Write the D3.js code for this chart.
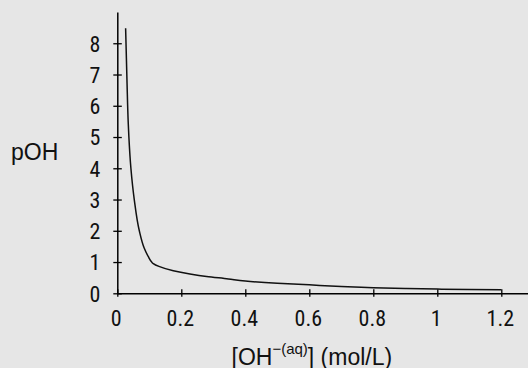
<!DOCTYPE html>
<html>
<head>
<meta charset="utf-8">
<script src="https://cdn.jsdelivr.net/npm/d3@7"></script>
<style>
  html, body { margin: 0; padding: 0; background: #e6e6e6; }
  svg { display: block; }
</style>
</head>
<body>
<div id="poh_chart"></div>
<script>
// values
var concentration = [0.026, 0.0305, 0.034, 0.0362, 0.0425, 0.053, 0.0688, 0.084, 0.097, 0.1075, 0.1125,
                     0.13, 0.175, 0.227, 0.279, 0.347, 0.4, 0.5, 0.6, 0.7, 0.8, 0.9, 1.0, 1.1, 1.2];
var pOH = [8.48, 6.7, 5.5, 5.0, 4.0, 3.0, 2.0, 1.45, 1.17, 1.0, 0.95,
           0.86, 0.72, 0.62, 0.54, 0.46, 0.39, 0.32, 0.27, 0.22, 0.18, 0.155, 0.135, 0.12, 0.11];
var xTicks = [0, 0.2, 0.4, 0.6, 0.8, 1, 1.2];
var yTicks = [0, 1, 2, 3, 4, 5, 6, 7, 8];

var width = 528, height = 368;

var svg = d3.select("#poh_chart")
  .append("svg")
    .attr("width", width)
    .attr("height", height);

var x = d3.scaleLinear()
  .domain([0, 1.3])
  .range([117.3, 117.3 + 1.3 * 320]);

var y = d3.scaleLinear()
  .domain([0, 9])
  .range([293.3, 12]);

var tickFont = "'Roboto Condensed', 'DejaVu Sans Condensed', 'Liberation Sans', sans-serif";

// x axis
var xAxis = svg.append("g")
  .attr("transform", "translate(0," + y(0) + ")")
  .call(d3.axisBottom(x)
    .tickValues(xTicks)
    .tickFormat(d3.format("~g"))
    .tickSizeInner(0)
    .tickSizeOuter(0)
    .tickPadding(32));
xAxis.select(".domain").attr("stroke", "#000").attr("stroke-width", 1.5);
xAxis.selectAll(".tick line").remove();
xAxis.selectAll(".tick").append("line")
  .attr("y1", -4).attr("y2", 3.5)
  .attr("stroke", "#000").attr("stroke-width", 1.3);
xAxis.selectAll(".tick text")
  .attr("y", 0).attr("dy", 33)
  .attr("dx", -1.5)
  .style("font-family", tickFont)
  .style("font-size", "22px")
  .attr("fill", "#111");

// y axis
var yAxis = svg.append("g")
  .attr("transform", "translate(" + x(0) + ",0)")
  .call(d3.axisLeft(y)
    .tickValues(yTicks)
    .tickSizeInner(0)
    .tickSizeOuter(0)
    .tickPadding(17));
yAxis.select(".domain").attr("stroke", "#000").attr("stroke-width", 1.5);
yAxis.selectAll(".tick line").remove();
yAxis.selectAll(".tick").append("line")
  .attr("x1", -4).attr("x2", 4.5)
  .attr("stroke", "#000").attr("stroke-width", 1.3);
yAxis.selectAll(".tick text")
  .attr("dy", "0.36em")
  .style("font-family", tickFont)
  .style("font-size", "22px")
  .attr("fill", "#111");

// curve
var points = concentration.map(function(c, i) { return [c, pOH[i]]; });
svg.append("path")
  .datum(points)
  .attr("fill", "none")
  .attr("stroke", "#111")
  .attr("stroke-width", 1.5)
  .attr("d", d3.line()
    .x(function(d) { return x(d[0]); })
    .y(function(d) { return y(d[1]); })
    .curve(d3.curveMonotoneY));

// axis titles
svg.append("text")
  .attr("x", 11)
  .attr("y", 159.5)
  .style("font-family", "'Liberation Sans', Arial, sans-serif")
  .style("font-size", "23px")
  .attr("fill", "#111")
  .text("pOH");

var xTitle = svg.append("text")
  .attr("x", 231.5)
  .attr("y", 364.5)
  .style("font-family", "'Liberation Sans', Arial, sans-serif")
  .style("font-size", "23px")
  .attr("fill", "#111");
xTitle.append("tspan").text("[OH");
xTitle.append("tspan")
  .attr("dy", -11)
  .style("font-size", "15px")
  .text("\u2212(aq)");
xTitle.append("tspan")
  .attr("dy", 11)
  .text("] (mol/L)");
</script>
</body>
</html>
